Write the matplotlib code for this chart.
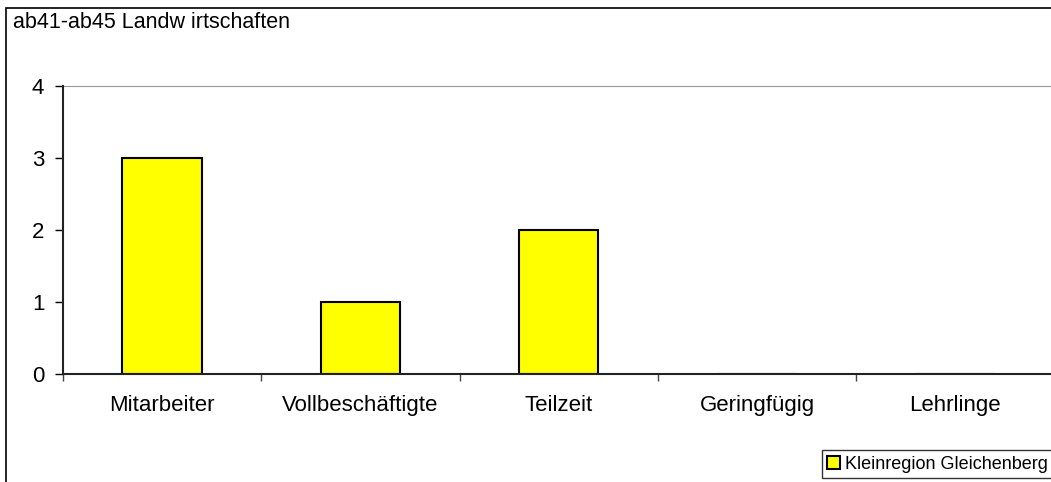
import matplotlib.pyplot as plt
import matplotlib.patches as mpatches
import numpy as np

plt.rcParams['font.family'] = ['Liberation Sans', 'DejaVu Sans']

title = "ab41-ab45 Landw irtschaften"
categories = ["Mitarbeiter", "Vollbeschäftigte", "Teilzeit", "Geringfügig", "Lehrlinge"]
values = [3, 1, 2, 0, 0]
series_name = "Kleinregion Gleichenberg"

W, H = 1051, 482
fig = plt.figure(figsize=(W / 100, H / 100), dpi=100)

# outer chart border (right/bottom edges fall outside the image)
fig.patches.append(mpatches.Rectangle((6 / W, -0.1), 1.2, 1 - 8 / H + 0.1,
                                      transform=fig.transFigure, fill=False,
                                      edgecolor='black', linewidth=1.2))

ax = fig.add_axes([63 / W, 1 - 374 / H, (1054.5 - 63) / W, (374 - 86) / H])
x = np.arange(len(categories))
ax.bar(x, values, width=0.4, color='#ffff00', edgecolor='black', linewidth=1.5,
       label=series_name, zorder=2)

ax.set_xlim(-0.5, len(categories) - 0.5)
ax.set_ylim(0, 4)
ax.set_yticks([0, 1, 2, 3, 4])
ax.set_xticks(np.arange(len(categories) + 1) - 0.5)
ax.set_xticklabels([])
ax.set_xticks(x, minor=True)
ax.set_xticklabels(categories, minor=True)
ax.tick_params(axis='x', which='minor', length=0, pad=15, labelsize=16)
ax.tick_params(axis='x', which='major', direction='out', length=5, width=1, color='#444444')
ax.tick_params(axis='y', direction='out', length=5.5, width=1, pad=8, labelsize=16)

ax.spines['right'].set_visible(False)
ax.spines['top'].set_color('#999999')
for side in ('left', 'bottom'):
    ax.spines[side].set_color('#222222')
    ax.spines[side].set_linewidth(1.5)
    ax.spines[side].set_zorder(3)

fig.text(13 / W, 1 - 12 / H, title, ha='left', va='top', fontsize=15.5)

leg = fig.legend(loc='lower left', bbox_to_anchor=(822 / W, 1 - 478 / H),
                 fontsize=13, frameon=True, fancybox=False, borderpad=0.3,
                 handlelength=0.7, handleheight=0.7, handletextpad=0.3,
                 borderaxespad=0)
leg.get_frame().set_edgecolor('black')
leg.get_frame().set_linewidth(1)

fig.savefig("out.png", dpi=100)
